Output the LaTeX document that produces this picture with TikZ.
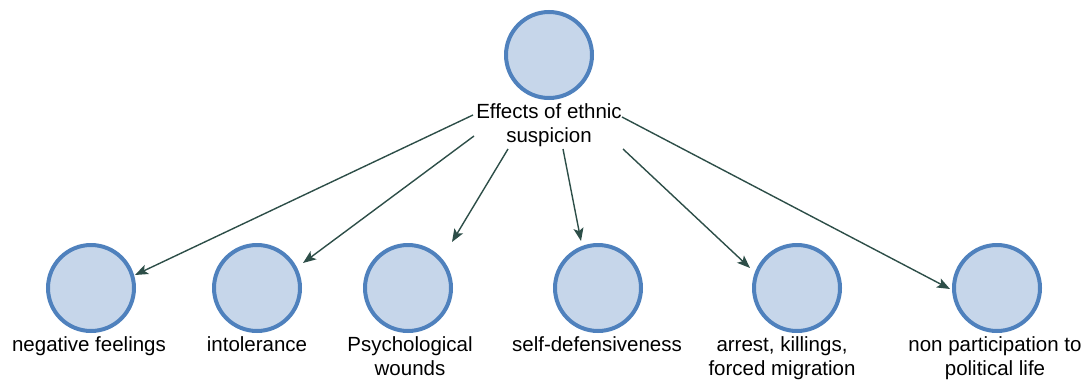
\documentclass[tikz,border=0pt]{standalone}
\usepackage{fontspec}
\setmainfont{Liberation Sans}
\usetikzlibrary{arrows.meta,calc}
\definecolor{ringblue}{RGB}{79,129,189}
\definecolor{discfill}{RGB}{198,214,234}
\definecolor{linkgreen}{RGB}{45,78,72}
\begin{document}
\begin{tikzpicture}[x=1pt,y=-1pt,
  disc/.style={circle,draw=ringblue,fill=discfill,line width=4pt,minimum size=86pt,inner sep=0pt},
  caption/.style={font=\fontsize{20.5}{24}\selectfont,align=center,inner sep=0pt,anchor=base},
  link/.style={draw=linkgreen,line width=1.4pt,-{Stealth[length=13pt,width=10pt,inset=3pt]}}]
\useasboundingbox (0,0) rectangle (1089,383);

% central cause (caption placed by the baseline of its last line)
\node[disc] (c0) at (549,55) {};
\node[caption] (cause) at (549,142) {Effects of ethnic\\suspicion};

% effects
\node[disc] (c1) at (91,288) {};
\node[disc] (c2) at (257,288) {};
\node[disc] (c3) at (408,288) {};
\node[disc] (c4) at (598,288) {};
\node[disc] (c5) at (797,288) {};
\node[disc] (c6) at (997,288) {};

\node[caption] (l1) at (89,351) {negative feelings};
\node[caption] (l2) at (257,351) {intolerance};
\node[caption] (l3) at (410,375) {Psychological\\wounds};
\node[caption] (l4) at (597,351) {self-defensiveness};
\node[caption] (l5) at (782,375) {arrest, killings,\\forced migration};
\node[caption] (l6) at (995,375) {non participation to\\political life};

% connector ends around the cause label
\coordinate (s1) at ($(cause.base)+(-76,-27)$);
\coordinate (s2) at ($(cause.base)+(-75,-6)$);
\coordinate (s3) at ($(cause.base)+(-41,7)$);
\coordinate (s4) at ($(cause.base)+(14,7)$);
\coordinate (s5) at ($(cause.base)+(74,7)$);
\coordinate (s6) at ($(cause.base)+(73,-25)$);

% arrow tips near the effect discs
\coordinate (t1) at ($(c1)+(44,-13)$);
\coordinate (t2) at ($(c2)+(46,-25)$);
\coordinate (t3) at ($(c3)+(44,-46)$);
\coordinate (t4) at ($(c4)+(-17,-47)$);
\coordinate (t5) at ($(c5)+(-47,-20)$);
\coordinate (t6) at ($(c6)+(-47,1)$);

\draw[link] (s1) -- (t1);
\draw[link] (s2) -- (t2);
\draw[link] (s3) -- (t3);
\draw[link] (s4) -- (t4);
\draw[link] (s5) -- (t5);
\draw[link] (s6) -- (t6);
\end{tikzpicture}
\end{document}
